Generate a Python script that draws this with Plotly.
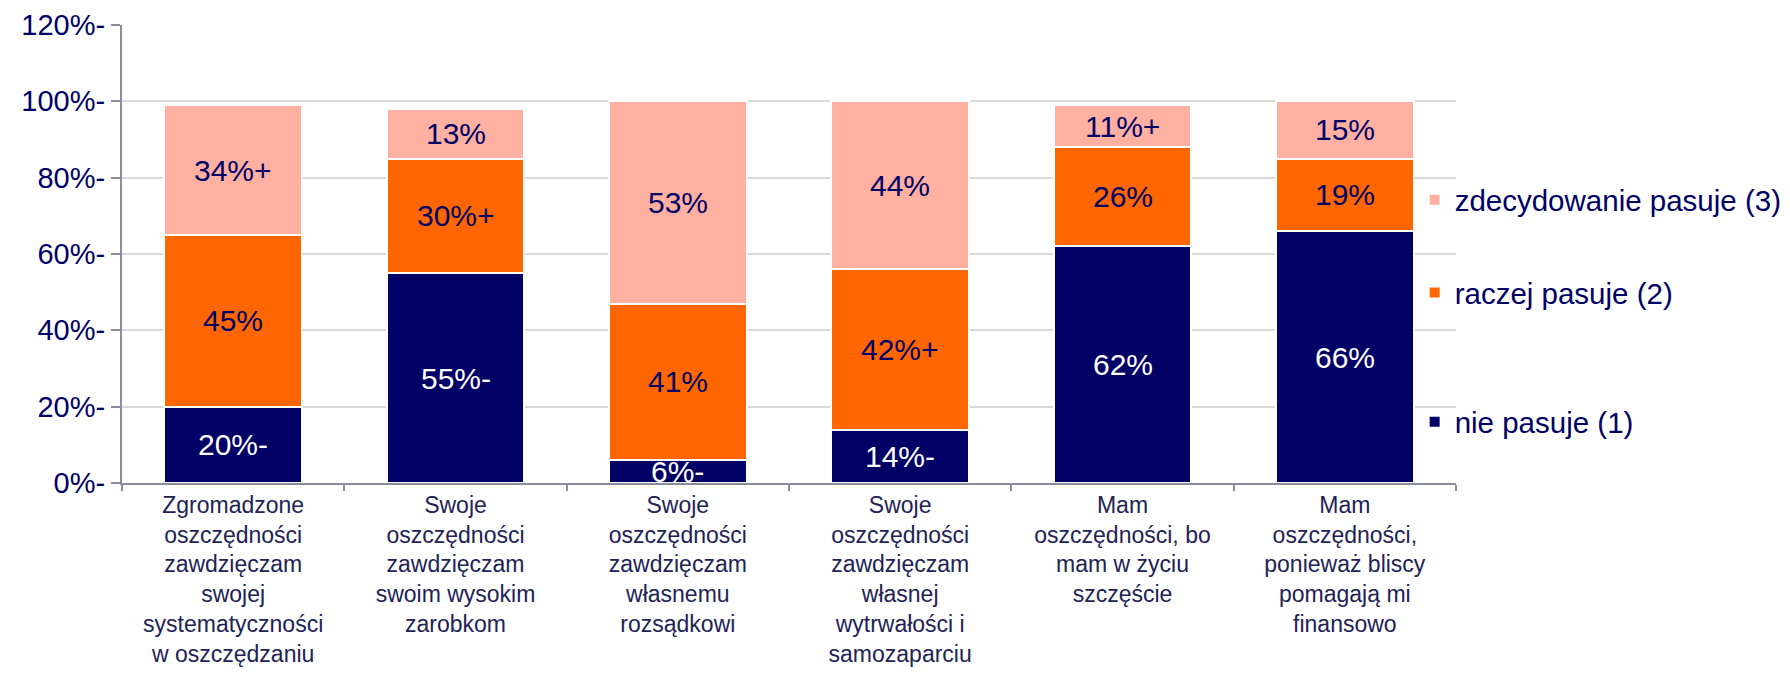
import plotly.graph_objects as go

categories = [
    "Zgromadzone<br>oszczędności<br>zawdzięczam<br>swojej<br>systematyczności<br>w oszczędzaniu",
    "Swoje<br>oszczędności<br>zawdzięczam<br>swoim wysokim<br>zarobkom",
    "Swoje<br>oszczędności<br>zawdzięczam<br>własnemu<br>rozsądkowi",
    "Swoje<br>oszczędności<br>zawdzięczam<br>własnej<br>wytrwałości i<br>samozaparciu",
    "Mam<br>oszczędności, bo<br>mam w życiu<br>szczęście",
    "Mam<br>oszczędności,<br>ponieważ bliscy<br>pomagają mi<br>finansowo",
]

nie_pasuje = [20, 55, 6, 14, 62, 66]
raczej_pasuje = [45, 30, 41, 42, 26, 19]
zdecydowanie_pasuje = [34, 13, 53, 44, 11, 15]

nie_labels = ["20%-", "55%-", "6%-", "14%-", "62%", "66%"]
raczej_labels = ["45%", "30%+", "41%", "42%+", "26%", "19%"]
zdecyd_labels = ["34%+", "13%", "53%", "44%", "11%+", "15%"]

y_tickvals = [0, 20, 40, 60, 80, 100, 120]
y_ticktext = ["0%-", "20%-", "40%-", "60%-", "80%-", "100%-", "120%-"]

NAVY = "#000066"
ORANGE = "#FF6600"
PINK = "#FFB0A0"
FONT = "Liberation Sans, Arial, sans-serif"

fig = go.Figure()
series = [
    ("nie pasuje (1)", nie_pasuje, NAVY, "legend3"),
    ("raczej pasuje (2)", raczej_pasuje, ORANGE, "legend2"),
    ("zdecydowanie pasuje (3)", zdecydowanie_pasuje, PINK, "legend4"),
]
for name, vals, col, leg in series:
    fig.add_trace(go.Bar(
        x=categories, y=vals, name=name, legend=leg,
        marker=dict(color=col, line=dict(color="white", width=2)),
        width=0.62, hoverinfo="skip",
    ))

# segment labels placed at segment centres in data coordinates
for i, cat in enumerate(categories):
    base = 0
    for vals, labels, tcol in [
        (nie_pasuje, nie_labels, "white"),
        (raczej_pasuje, raczej_labels, NAVY),
        (zdecydowanie_pasuje, zdecyd_labels, NAVY),
    ]:
        v = vals[i]
        fig.add_annotation(
            x=cat, y=base + v / 2, xref="x", yref="y",
            text=labels[i], showarrow=False,
            font=dict(family=FONT, size=30, color=tcol),
        )
        base += v

legend_style = dict(xanchor="left", yanchor="middle", x=0.969,
                    bgcolor="rgba(0,0,0,0)", itemwidth=30,
                    font=dict(size=29.5, color=NAVY, family=FONT))

fig.update_layout(
    barmode="stack",
    width=1790, height=674,
    margin=dict(l=114, r=342, t=17, b=199, autoexpand=False),
    plot_bgcolor="white", paper_bgcolor="white",
    font=dict(family=FONT, color=NAVY),
    legend=dict(visible=False),
    legend4=dict(y=0.618, **legend_style),
    legend2=dict(y=0.415, **legend_style),
    legend3=dict(y=0.133, **legend_style),
)

fig.update_xaxes(
    type="category", automargin=False,
    showline=True, linecolor="#8C8CA0", linewidth=2,
    ticks="outside", tickson="boundaries", ticklen=6, tickcolor="#8C8CA0", tickwidth=2,
    tickfont=dict(family=FONT, size=23, color="#222255"),
    tickangle=0,
    showgrid=False,
)
fig.update_yaxes(
    range=[0, 120], automargin=False,
    tickvals=y_tickvals, ticktext=y_ticktext,
    showline=True, linecolor="#8C8CA0", linewidth=2,
    ticks="outside", ticklen=9, tickcolor="#8C8CA0", tickwidth=2,
    tickfont=dict(family=FONT, size=29, color=NAVY),
    showgrid=True, gridcolor="#D9D9D9", gridwidth=2,
    zeroline=False,
)

fig.write_html("out.html")
